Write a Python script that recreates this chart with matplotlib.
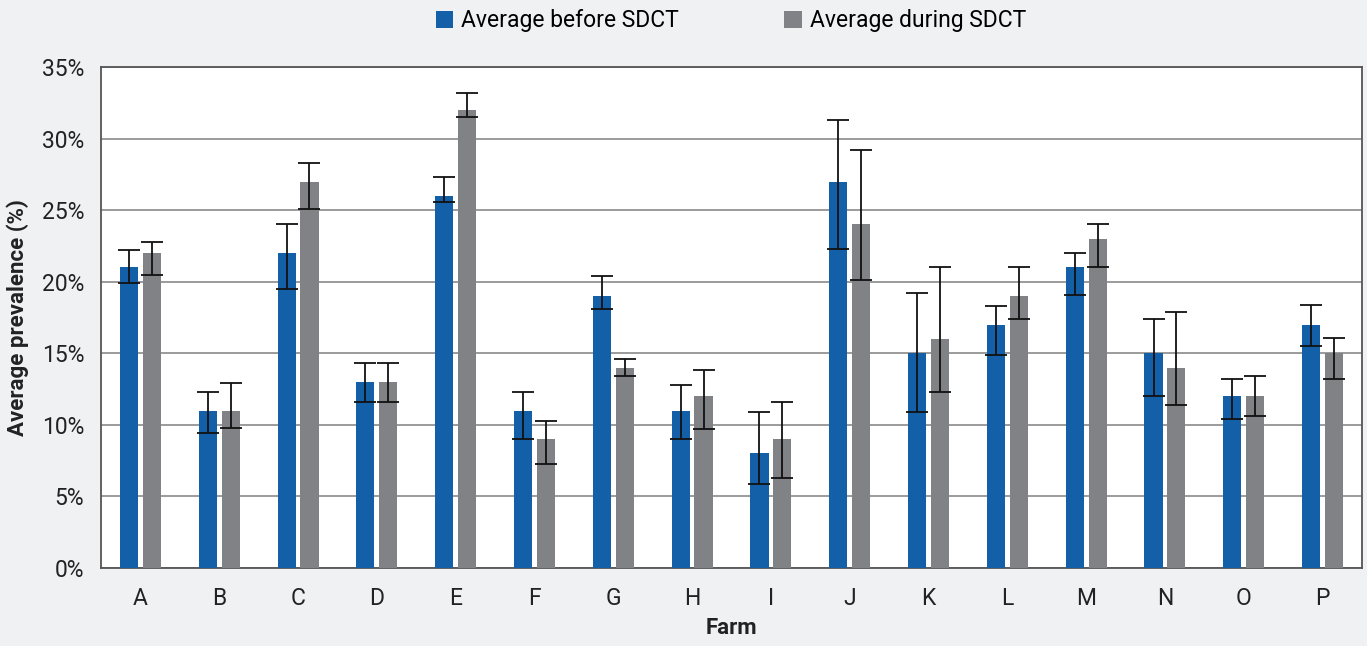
import matplotlib.pyplot as plt
import numpy as np
from matplotlib.ticker import FuncFormatter

# Average prevalence (%) per farm, with lower/upper error bar ends
farms = list("ABCDEFGHIJKLMNOP")
before = [21, 11, 22, 13, 26, 11, 19, 11, 8, 27, 15, 17, 21, 15, 12, 17]
before_low = [19.9, 9.4, 19.5, 11.6, 25.6, 9.0, 18.1, 9.0, 5.9, 22.3, 10.9, 14.9, 19.05, 12.0, 10.4, 15.5]
before_high = [22.2, 12.3, 24.0, 14.3, 27.3, 12.3, 20.4, 12.8, 10.9, 31.3, 19.2, 18.3, 22.0, 17.4, 13.2, 18.4]
during = [22, 11, 27, 13, 32, 9, 14, 12, 9, 24, 16, 19, 23, 14, 12, 15]
during_low = [20.5, 9.8, 25.1, 11.6, 31.5, 7.3, 13.4, 9.7, 6.3, 20.1, 12.3, 17.4, 21.0, 11.4, 10.6, 13.2]
during_high = [22.8, 12.9, 28.3, 14.3, 33.2, 10.3, 14.6, 13.8, 11.6, 29.2, 21.0, 21.0, 24.0, 17.9, 13.4, 16.1]

BLUE = "#135fa8"
GREY = "#818285"
BG = "#f0f1f3"

plt.rcParams["font.family"] = ["Roboto", "DejaVu Sans"]

fig = plt.figure(figsize=(13.67, 6.46), dpi=100, facecolor=BG)
ax = fig.add_axes([101 / 1367, 1 - 568 / 646, 1261 / 1367, 501 / 646])
ax.set_facecolor("white")

x = np.arange(len(farms))
w = 0.23
off = 0.145

def yerr(vals, low, high):
    vals = np.array(vals, dtype=float)
    return [vals - np.array(low), np.array(high) - vals]

err_kw = dict(ecolor="#111111", elinewidth=1.3, capsize=8, capthick=1.3)
ax.bar(x - off, before, w, color=BLUE, yerr=yerr(before, before_low, before_high),
       error_kw=err_kw, label="Average before SDCT", zorder=3)
ax.bar(x + off, during, w, color=GREY, yerr=yerr(during, during_low, during_high),
       error_kw=err_kw, label="Average during SDCT", zorder=3)

ax.set_xlim(-0.5, len(farms) - 0.5)
ax.set_ylim(0, 35)
ax.set_yticks(np.arange(0, 36, 5))
ax.yaxis.set_major_formatter(FuncFormatter(lambda v, _: f"{v:.0f}%"))
ax.set_xticks(x)
ax.set_xticklabels(farms)
ax.tick_params(axis="both", length=0, labelsize=16.5, colors="#222222")
ax.tick_params(axis="x", pad=14)
ax.tick_params(axis="y", pad=12)
ax.grid(axis="y", color="#8a8a8a", linewidth=1.2, zorder=0)

for side in ["top", "bottom", "left", "right"]:
    ax.spines[side].set_color("#555555")
    ax.spines[side].set_linewidth(1.3)

ax.set_xlabel("Farm", fontsize=16, fontweight="bold", color="#222222", labelpad=5)
ax.set_ylabel("Average prevalence (%)", fontsize=16, fontweight="bold", color="#222222", labelpad=9)

fig.legend(loc="center", bbox_to_anchor=(731 / 1367, 1 - 21 / 646), ncol=2, frameon=False,
           fontsize=16.5, handlelength=0.75, handleheight=0.75, handletextpad=0.35,
           columnspacing=4.6)

fig.savefig("out.png", dpi=100, facecolor=BG)
